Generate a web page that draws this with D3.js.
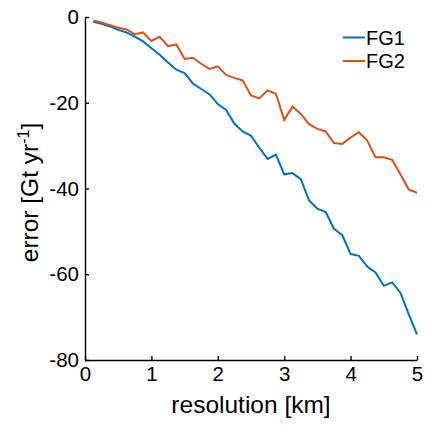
<!DOCTYPE html>
<html>
<head>
<meta charset="utf-8">
<script src="https://cdn.jsdelivr.net/npm/d3@7"></script>
<style>
  body { margin: 0; background: #fff; }
  svg { display: block; font-family: "Liberation Sans", Arial, Helvetica, sans-serif; }
  .axis path, .axis line { stroke: #000; stroke-width: 1.4; }
  .axis text { font-size: 20.5px; fill: #000; }
</style>
</head>
<body>
<svg id="chart"></svg>
<script>
// resolution [km]
const resolution = [0.125, 0.25, 0.375, 0.5, 0.625, 0.75, 0.875, 1.0, 1.125, 1.25,
  1.375, 1.5, 1.625, 1.75, 1.875, 2.0, 2.125, 2.25, 2.375, 2.5,
  2.625, 2.75, 2.875, 3.0, 3.125, 3.25, 3.375, 3.5, 3.625, 3.75,
  3.875, 4.0, 4.125, 4.25, 4.375, 4.5, 4.625, 4.75, 4.875, 5.0];

// error [Gt yr-1]
const fg1 = [-1.1, -1.6, -2.2, -3.0, -3.6, -4.6, -5.7, -7.3, -8.8, -10.6,
  -12.3, -13.1, -15.5, -16.8, -18.0, -20.3, -21.7, -24.9, -26.7, -27.7,
  -30.5, -33.1, -32.1, -36.7, -36.4, -37.8, -42.8, -44.7, -45.5, -49.4,
  -50.9, -55.3, -55.7, -58.2, -59.6, -62.7, -61.9, -64.3, -69.3, -74.0];

const fg2 = [-0.8, -1.3, -1.9, -2.5, -2.9, -4.0, -3.6, -5.6, -4.6, -6.8,
  -6.4, -9.8, -9.5, -10.9, -12.1, -11.5, -13.5, -14.2, -14.8, -18.3,
  -19.0, -17.1, -17.9, -24.0, -20.9, -22.6, -25.0, -26.1, -26.7, -29.4,
  -29.6, -28.1, -26.9, -28.8, -32.7, -32.7, -33.3, -36.7, -40.2, -41.0];

const seriesNames = ["FG1", "FG2"];
const seriesColors = ["#0072BD", "#D95319"];
const xTicks = [0, 1, 2, 3, 4, 5];
const yTicks = [0, -20, -40, -60, -80];

const width = 426, height = 429;
const margin = { top: 17, right: 9, bottom: 69, left: 85 };

const svg = d3.select("#chart")
  .attr("width", width)
  .attr("height", height);

const x = d3.scaleLinear()
  .domain([0, 5])
  .range([margin.left, width - margin.right]);

const y = d3.scaleLinear()
  .domain([-80, 0])
  .range([height - margin.bottom, margin.top]);

// axes (MATLAB style, ticks inward, box off)
svg.append("g")
  .attr("class", "axis")
  .attr("transform", `translate(0, ${height - margin.bottom})`)
  .call(d3.axisBottom(x).tickValues(xTicks).tickSizeInner(-4).tickSizeOuter(0).tickPadding(6).tickFormat(d3.format("d")));

svg.append("g")
  .attr("class", "axis")
  .attr("transform", `translate(${margin.left}, 0)`)
  .call(d3.axisLeft(y).tickValues(yTicks).tickSizeInner(-4).tickSizeOuter(0).tickPadding(6).tickFormat(d => d3.format("d")(d).replace("−", "-")));

// lines
const line = d3.line()
  .x((d, i) => x(resolution[i]))
  .y(d => y(d));

[fg1, fg2].forEach((s, i) => {
  svg.append("path")
    .datum(s)
    .attr("fill", "none")
    .attr("stroke", seriesColors[i])
    .attr("stroke-width", 2)
    .attr("stroke-linejoin", "miter")
    .attr("d", line);
});

// axis labels
svg.append("text")
  .attr("x", (x(0) + x(5)) / 2)
  .attr("y", 413)
  .attr("text-anchor", "middle")
  .style("font-size", "24.5px")
  .text("resolution [km]");

const yl = svg.append("text")
  .attr("transform", `translate(38, ${(y(0) + y(-80)) / 2 + 4}) rotate(-90)`)
  .attr("text-anchor", "middle")
  .style("font-size", "24.5px");
yl.append("tspan").text("error [Gt yr");
yl.append("tspan").attr("dy", -9).style("font-size", "16px").text("-1");
yl.append("tspan").attr("dy", 9).text("]");

// legend
const legend = svg.append("g");
seriesNames.forEach((name, i) => {
  const ly = 37.5 + i * 23.5;
  legend.append("line")
    .attr("x1", 343).attr("x2", 365)
    .attr("y1", ly).attr("y2", ly)
    .attr("stroke", seriesColors[i])
    .attr("stroke-width", 2);
  legend.append("text")
    .attr("x", 366)
    .attr("y", ly)
    .attr("dy", "0.36em")
    .style("font-size", "20px")
    .text(name);
});
</script>
</body>
</html>
